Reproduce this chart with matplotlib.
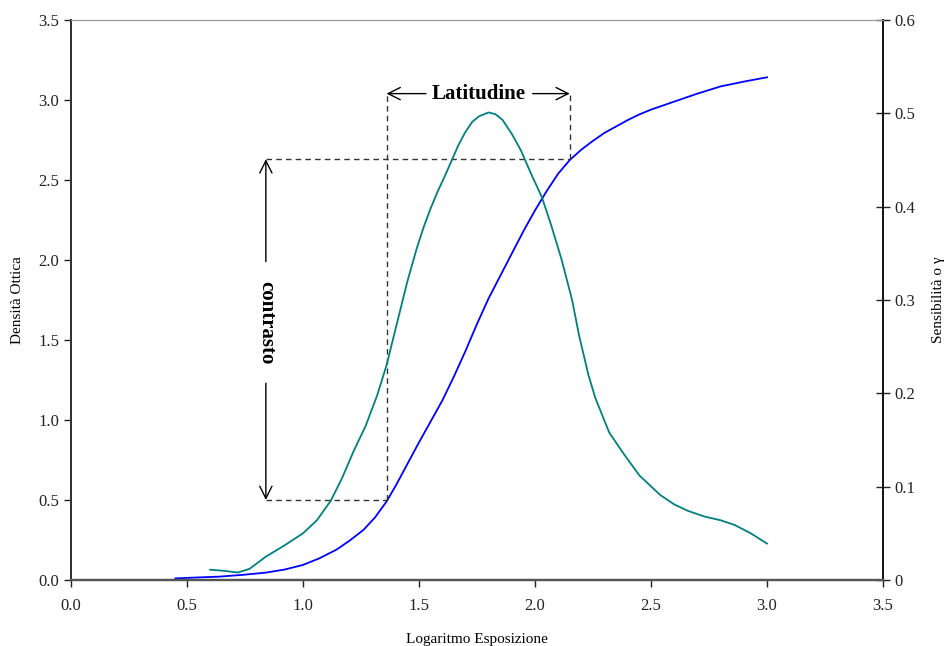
import matplotlib
matplotlib.use("Agg")
import matplotlib.pyplot as plt

plt.rcParams['font.family'] = ['Liberation Serif', 'DejaVu Serif']

# curva caratteristica (asse sinistro)
log_exp_density = [0.45, 0.55, 0.64, 0.74, 0.84, 0.92, 1.0, 1.07, 1.145, 1.2, 1.26, 1.31,
                   1.36, 1.4, 1.45, 1.5, 1.55, 1.6, 1.65, 1.7, 1.75, 1.8, 1.85, 1.9,
                   1.95, 2.0, 2.05, 2.1, 2.15, 2.2, 2.25, 2.3, 2.35, 2.4, 2.45, 2.5,
                   2.55, 2.6, 2.7, 2.8, 2.9, 3.0]
density = [0.01, 0.016, 0.021, 0.032, 0.046, 0.065, 0.094, 0.135, 0.19, 0.245, 0.312, 0.39,
           0.49, 0.59, 0.725, 0.86, 0.99, 1.12, 1.27, 1.43, 1.6, 1.76, 1.9, 2.04,
           2.18, 2.31, 2.43, 2.54, 2.625, 2.69, 2.745, 2.795, 2.835, 2.875, 2.91, 2.94,
           2.965, 2.99, 3.04, 3.085, 3.115, 3.142]

# sensibilita / gamma (asse destro)
log_exp_gamma = [0.6, 0.65, 0.72, 0.77, 0.84, 0.92, 1.0, 1.06, 1.12, 1.17, 1.22, 1.27,
                 1.32, 1.36, 1.39, 1.42, 1.45, 1.49, 1.52, 1.55, 1.58, 1.61, 1.64, 1.67,
                 1.7, 1.73, 1.76, 1.8, 1.83, 1.86, 1.9, 1.94, 1.98, 2.03, 2.07, 2.115,
                 2.16, 2.19, 2.23, 2.26, 2.32, 2.38, 2.45, 2.54, 2.6, 2.66, 2.73, 2.8,
                 2.86, 2.93, 3.0]
gamma = [0.011, 0.010, 0.008, 0.012, 0.025, 0.037, 0.05, 0.064, 0.085, 0.11, 0.139, 0.165,
         0.198, 0.23, 0.26, 0.29, 0.32, 0.355, 0.378, 0.398, 0.416, 0.432, 0.449, 0.466,
         0.48, 0.491, 0.497, 0.501, 0.499, 0.493, 0.478, 0.46, 0.437, 0.41, 0.38, 0.343,
         0.30, 0.262, 0.22, 0.195, 0.158, 0.136, 0.112, 0.091, 0.081, 0.074, 0.068, 0.064,
         0.059, 0.05, 0.039]

x_ticks = [0.0, 0.5, 1.0, 1.5, 2.0, 2.5, 3.0, 3.5]
y_ticks = [0.0, 0.5, 1.0, 1.5, 2.0, 2.5, 3.0, 3.5]
y2_ticks = [0, 0.1, 0.2, 0.3, 0.4, 0.5, 0.6]
y2_labels = ['0', '0.1', '0.2', '0.3', '0.4', '0.5', '0.6']

# riferimenti per latitudine e contrasto
x_contr = 0.84
x_lat = [1.36, 2.15]
d_low, d_high = 0.5, 2.63
y_lat = 3.04

fig = plt.figure(figsize=(9.45, 6.46), dpi=100)
ax = fig.add_axes([0.0751, 0.1022, 0.8593, 0.8668])
ax2 = ax.twinx()

ax.plot(log_exp_density, density, color='#0000FF', lw=1.3, solid_joinstyle='round')
ax2.plot(log_exp_gamma, gamma, color='#008080', lw=1.3, solid_joinstyle='round')

ax.set_xlim(0, 3.5)
ax.set_ylim(0, 3.5)
ax2.set_ylim(0, 0.6)
ax.set_xticks(x_ticks)
ax.set_xticklabels(['%.1f' % v for v in x_ticks])
ax.set_yticks(y_ticks)
ax.set_yticklabels(['%.1f' % v for v in y_ticks])
ax2.set_yticks(y2_ticks)
ax2.set_yticklabels(y2_labels)

ax.tick_params(axis='both', direction='out', length=5, width=1, labelsize=12, colors='#222222')
ax.tick_params(axis='x', pad=8)
ax2.tick_params(axis='y', direction='inout', length=10, width=1, labelsize=12, colors='#222222')

for a in (ax, ax2):
    a.spines['top'].set_color('#999999')
    a.spines['bottom'].set_color('#555555')
    a.spines['bottom'].set_linewidth(1.6)
    a.spines['left'].set_color('#333333')
    a.spines['left'].set_linewidth(1.4)
    a.spines['right'].set_color('#111111')
    a.spines['right'].set_linewidth(1.2)

ax.set_xlabel('Logaritmo Esposizione', fontsize=11, labelpad=14)
ax.set_ylabel('Densità Ottica', fontsize=11, labelpad=10)
ax2.set_ylabel('Sensibilità o γ', fontsize=11, labelpad=12)

# linee tratteggiate
dash = dict(color='#333333', lw=1.0, ls=(0, (4, 3)))
ax.plot([x_contr, x_lat[0]], [d_low, d_low], **dash)
ax.plot([x_lat[0], x_lat[0]], [d_low, y_lat], **dash)
ax.plot([x_contr, x_lat[1]], [d_high, d_high], **dash)
ax.plot([x_lat[1], x_lat[1]], [d_high, y_lat], **dash)

arrow = dict(arrowstyle='->', color='black', lw=1.0, mutation_scale=22,
             shrinkA=0, shrinkB=0)

# Latitudine
ax.text(1.755, y_lat, 'Latitudine', fontsize=15, fontweight='bold',
        ha='center', va='center')
ax.annotate('', xy=(x_lat[0], y_lat), xytext=(1.53, y_lat), arrowprops=arrow)
ax.annotate('', xy=(x_lat[1], y_lat), xytext=(1.99, y_lat), arrowprops=arrow)

# contrasto
ax.text(x_contr, 1.61, 'contrasto', fontsize=15, fontweight='bold',
        rotation=-90, ha='center', va='center')
ax.annotate('', xy=(x_contr, d_high), xytext=(x_contr, 1.99), arrowprops=arrow)
ax.annotate('', xy=(x_contr, d_low), xytext=(x_contr, 1.23), arrowprops=arrow)

fig.savefig('out.png', dpi=100)
